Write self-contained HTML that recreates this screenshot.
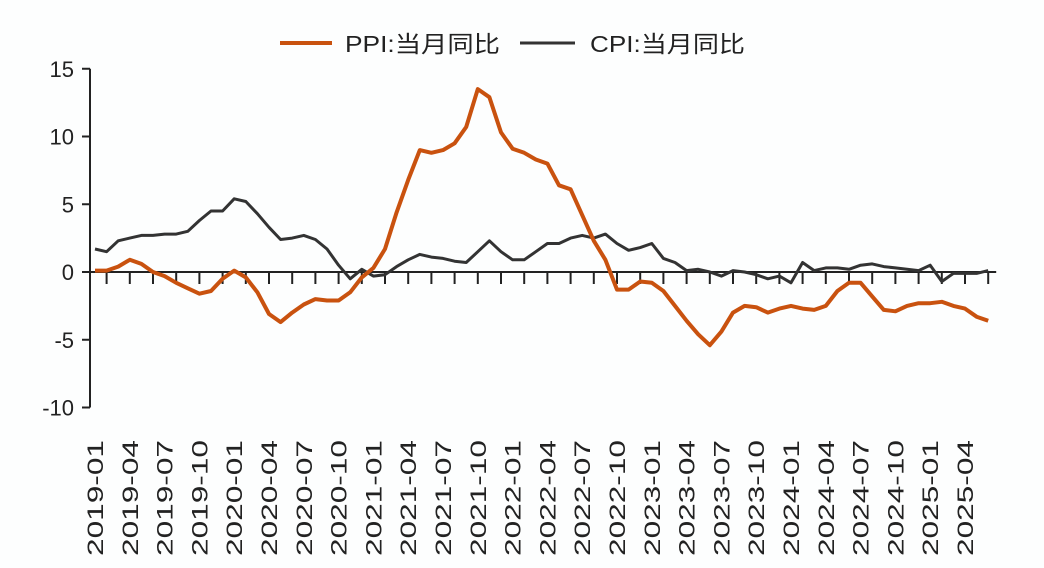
<!DOCTYPE html>
<html><head><meta charset="utf-8">
<style>
html,body{margin:0;padding:0;background:#fdfefe;}
svg{display:block;font-family:"Liberation Sans","Noto Sans CJK SC",sans-serif;}
</style></head>
<body>
<svg id="chart" width="1044" height="568" viewBox="0 0 1044 568">
<g>
<line x1="280" y1="43" x2="332" y2="43" stroke="#c9520f" stroke-width="4"/>
<text x="345" y="52" font-size="23" textLength="155" lengthAdjust="spacingAndGlyphs" fill="#222">PPI:当月同比</text>
<line x1="520" y1="43" x2="575" y2="43" stroke="#333" stroke-width="3"/>
<text x="590" y="52" font-size="23" textLength="155" lengthAdjust="spacingAndGlyphs" fill="#222">CPI:当月同比</text>
</g>
<g id="axes"></g>
<g id="series"></g>
</svg>
<script>
const months=[];for(let y=2019;y<=2025;y++)for(let m=1;m<=12;m++){if(y===2025&&m>6)break;months.push(y+'-'+String(m).padStart(2,'0'));}
const ppi=[0.1,0.1,0.4,0.9,0.6,0,-0.3,-0.8,-1.2,-1.6,-1.4,-0.5,
0.1,-0.4,-1.5,-3.1,-3.7,-3.0,-2.4,-2.0,-2.1,-2.1,-1.5,-0.4,
0.3,1.7,4.4,6.8,9.0,8.8,9.0,9.5,10.7,13.5,12.9,10.3,
9.1,8.8,8.3,8.0,6.4,6.1,4.2,2.3,0.9,-1.3,-1.3,-0.7,
-0.8,-1.4,-2.5,-3.6,-4.6,-5.4,-4.4,-3.0,-2.5,-2.6,-3.0,-2.7,
-2.5,-2.7,-2.8,-2.5,-1.4,-0.8,-0.8,-1.8,-2.8,-2.9,-2.5,-2.3,
-2.3,-2.2,-2.5,-2.7,-3.3,-3.6];
const cpi=[1.7,1.5,2.3,2.5,2.7,2.7,2.8,2.8,3.0,3.8,4.5,4.5,
5.4,5.2,4.3,3.3,2.4,2.5,2.7,2.4,1.7,0.5,-0.5,0.2,
-0.3,-0.2,0.4,0.9,1.3,1.1,1.0,0.8,0.7,1.5,2.3,1.5,
0.9,0.9,1.5,2.1,2.1,2.5,2.7,2.5,2.8,2.1,1.6,1.8,
2.1,1.0,0.7,0.1,0.2,0,-0.3,0.1,0,-0.2,-0.5,-0.3,
-0.8,0.7,0.1,0.3,0.3,0.2,0.5,0.6,0.4,0.3,0.2,0.1,
0.5,-0.7,-0.1,-0.1,-0.1,0.1];
const yTicks=[15,10,5,0,-5,-10];
const yTickLabels=["15","10","5","0","-5","-10"];

const NS='http://www.w3.org/2000/svg';
const X=i=>95+i*11.6;
const Y=v=>272-v*13.55;
function mk(tag,attrs,parent){const e=document.createElementNS(NS,tag);for(const k in attrs)e.setAttribute(k,attrs[k]);parent.appendChild(e);return e;}
const axes=document.getElementById('axes'),ser=document.getElementById('series');

const yAxis=mk('line',{x1:90,y1:Y(15),x2:90,y2:Y(-10),stroke:'#222','stroke-width':2},axes);


yTicks.forEach((v,k)=>{
  const t=mk('line',{x1:82,y1:Y(v),x2:90,y2:Y(v),stroke:'#222','stroke-width':2},axes);
  
  
  const l=mk('text',{x:74,y:Y(v)+8,'font-size':22,'text-anchor':'end',fill:'#222'},axes);
  l.textContent=yTickLabels[k];
  
  
});
const zl=mk('line',{x1:90,y1:Y(0),x2:X(months.length-1)+8,y2:Y(0),stroke:'#222','stroke-width':2},axes);


for(let i=1;i<months.length;i+=2){
  const t=mk('line',{x1:X(i),y1:Y(0),x2:X(i),y2:Y(0)+12,stroke:'#222','stroke-width':2},axes);
  
  
}
for(let i=0;i<months.length;i+=3){
  const x=X(i)+8;
  const l=mk('text',{x:x,y:556,'font-size':22,textLength:116,lengthAdjust:'spacingAndGlyphs',fill:'#222',transform:`rotate(-90 ${x} 556)`},axes);
  l.textContent=months[i];
  
  
}
function path(arr){return arr.map((v,i)=>(i?'L':'M')+X(i).toFixed(1)+','+Y(v).toFixed(1)).join(' ');}
const pc=mk('path',{d:path(cpi),fill:'none',stroke:'#333','stroke-width':3,'stroke-linejoin':'round'},ser);


const pp=mk('path',{d:path(ppi),fill:'none',stroke:'#c9520f','stroke-width':4,'stroke-linejoin':'round'},ser);


</script>
</body></html>
